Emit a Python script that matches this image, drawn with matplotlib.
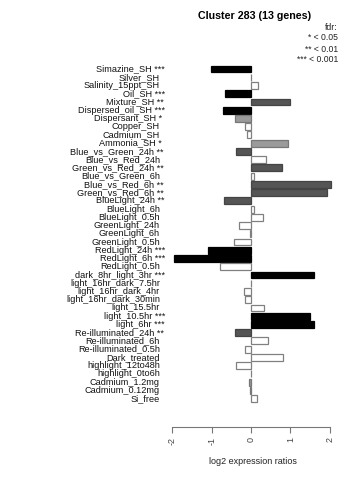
import matplotlib
matplotlib.use("Agg")
import matplotlib.pyplot as plt

plt.rcParams['font.family'] = ['Liberation Sans', 'DejaVu Sans']

conditions = ["Simazine_SH", "Silver_SH", "Salinity_15ppt_SH", "Oil_SH", "Mixture_SH",
              "Dispersed_oil_SH", "Dispersant_SH", "Copper_SH", "Cadmium_SH", "Ammonia_SH",
              "Blue_vs_Green_24h", "Blue_vs_Red_24h", "Green_vs_Red_24h", "Blue_vs_Green_6h",
              "Blue_vs_Red_6h", "Green_vs_Red_6h", "BlueLight_24h", "BlueLight_6h",
              "BlueLight_0.5h", "GreenLight_24h", "GreenLight_6h", "GreenLight_0.5h",
              "RedLight_24h", "RedLight_6h", "RedLight_0.5h", "dark_8hr_light_3hr",
              "light_16hr_dark_7.5hr", "light_16hr_dark_4hr", "light_16hr_dark_30min",
              "light_15.5hr", "light_10.5hr", "light_6hr", "Re-illuminated_24h",
              "Re-illuminated_6h", "Re-illuminated_0.5h", "Dark_treated", "highlight_12to48h",
              "highlight_0to6h", "Cadmium_1.2mg", "Cadmium_0.12mg", "Si_free"]
stars = ["***", "", "", "***", "**", "***", "*", "", "", "*",
         "**", "", "**", "", "**", "**", "**", "", "", "", "", "",
         "***", "***", "", "***", "", "", "", "", "***", "***", "**",
         "", "", "", "", "", "", "", ""]
values = [-1.02, -0.01, 0.17, -0.66, 1.00, -0.70, -0.40, -0.16, -0.10, 0.93,
          -0.39, 0.39, 0.79, 0.08, 2.03, 1.94, -0.69, 0.07, 0.31, -0.30, -0.02, -0.43,
          -1.08, -1.95, -0.79, 1.59, -0.01, -0.18, -0.14, 0.34, 1.50, 1.59, -0.41,
          0.42, -0.16, 0.82, -0.39, 0.01, -0.04, -0.03, 0.16]
# colour class: k=black, d=dark grey, l=light grey, w=white
classes = ["k", "w", "w", "k", "d", "k", "l", "w", "w", "l",
           "d", "w", "d", "w", "d", "d", "d", "w", "w", "w", "w", "w",
           "k", "k", "w", "k", "w", "w", "w", "w", "k", "k", "d",
           "w", "w", "w", "w", "w", "l", "l", "w"]
xticks = [-2, -1, 0, 1, 2]

face = {"k": "#000000", "d": "#555555", "l": "#9a9a9a", "w": "#ffffff"}
edge = {"k": "#000000", "d": "#444444", "l": "#777777", "w": "#808080"}

W, H = 360, 480
fig = plt.figure(figsize=(W / 100, H / 100), dpi=100)

px_per_unit = (330 - 172.5) / 4.0
x0 = 251.0
ax_left_px, ax_right_px = 165, 340
xl = ((ax_left_px - x0) / px_per_unit, (ax_right_px - x0) / px_per_unit)
top_px, bot_px = 62, 416
step = 8.24
first = 69
yl_top = -(first - top_px) / step
yl_bot = (bot_px - first) / step

ax = fig.add_axes([ax_left_px / W, 1 - bot_px / H, (ax_right_px - ax_left_px) / W, (bot_px - top_px) / H])
n = len(conditions)
ys = list(range(n))
ax.barh(ys, values, height=1 / 1.2, color=[face[c] for c in classes],
        edgecolor=[edge[c] for c in classes], linewidth=0.9)
ax.set_xlim(*xl)
ax.set_ylim(yl_bot, yl_top)

for s in ["top", "right", "left"]:
    ax.spines[s].set_visible(False)
ax.spines["bottom"].set_bounds(-2, 2)
ax.spines["bottom"].set_position(("outward", (427 - bot_px) * 0.72))
ax.spines["bottom"].set_color("#777777")
ax.set_xticks(xticks)
ax.set_xticklabels([str(t) for t in xticks], rotation=90, fontsize=6.5, color="#444444")
ax.tick_params(axis="x", length=4, color="#777777", pad=3)
ax.set_yticks([])
ax.set_xlabel("log2 expression ratios", fontsize=6.5, color="#222222", labelpad=9)

labels = [c + (" " + s if s else "") for c, s in zip(conditions, stars)]
for y, lab, s in zip(ys, labels, stars):
    xr = 160 if not s else 160 + {"*": 2, "**": 4, "***": 5}[s]
    fig.text(xr / W, 1 - (first + step * y) / H, lab, ha="right", va="center",
             fontsize=6.6, color="#111111")

fig.text(255 / W, 1 - 16 / H, "Cluster 283 (13 genes)", ha="center", va="center",
         fontsize=7.7, fontweight="bold")
for yy, t in [(28, "fdr:"), (38, "* < 0.05"), (49, "** < 0.01"), (60, "*** < 0.001")]:
    fig.text(338 / W, 1 - yy / H, t, ha="right", va="center", fontsize=6.2, color="#222222")

fig.savefig("out.png", dpi=100)
